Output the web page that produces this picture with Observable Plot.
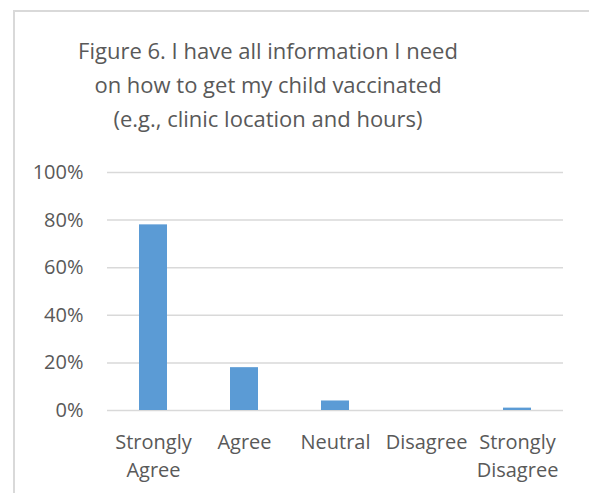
<!DOCTYPE html>
<html>
<head>
<meta charset="utf-8">
<script src="https://cdn.jsdelivr.net/npm/d3@7"></script>
<script src="https://cdn.jsdelivr.net/npm/@observablehq/plot@0.6"></script>
<style>
  html, body { margin: 0; padding: 0; background: #fff; }
  #wrap { position: relative; width: 589px; height: 493px; overflow: hidden; font-family: "Open Sans", sans-serif; }
  #frameTop { position: absolute; left: 13px; top: 10px; width: 600px; height: 2px; background: #d9d9d9; }
  #frameLeft { position: absolute; left: 13px; top: 10px; width: 2px; height: 500px; background: #d9d9d9; }
  #title { position: absolute; left: 0; top: 33px; width: 536px; text-align: center; font-size: 22px; line-height: 34px; color: #595959; }
  #chart { position: absolute; left: 0; top: 150px; }
</style>
</head>
<body>
<div id="wrap">
  <div id="frameTop"></div>
  <div id="frameLeft"></div>
  <div id="title">Figure 6. I have all information I need<br>on how to get my child vaccinated<br>(e.g., clinic location and hours)</div>
  <div id="chart"></div>
</div>
<script>
const categories = ["Strongly Agree", "Agree", "Neutral", "Disagree", "Strongly Disagree"];
const categoryLabels = ["Strongly\nAgree", "Agree", "Neutral", "Disagree", "Strongly\nDisagree"];
const values = [0.78, 0.18, 0.04, 0.0, 0.01];
const yTicks = [0, 0.2, 0.4, 0.6, 0.8, 1.0];

const data = categories.map((c, i) => ({category: c, value: values[i]}));
const labelOf = new Map(categories.map((c, i) => [c, categoryLabels[i]]));

const chart = Plot.plot({
  width: 589,
  height: 343,
  marginTop: 22,
  marginBottom: 83,
  marginLeft: 107,
  marginRight: 26,
  style: {fontFamily: "'Open Sans', sans-serif", color: "#595959", background: "transparent"},
  x: {domain: categories, paddingInner: 0.69, paddingOuter: 0.345, label: null},
  y: {domain: [0, 1], label: null},
  marks: [
    Plot.gridY(yTicks, {stroke: "#d9d9d9", strokeOpacity: 1, strokeWidth: 1.5}),
    Plot.barY(data, {x: "category", y: "value", fill: "#5b9bd5"}),
    Plot.axisY(yTicks, {tickSize: 0, tickPadding: 24, fontSize: 20, fill: "#595959", tickFormat: d3.format(".0%"), label: null}),
    Plot.axisX({tickSize: 0, tickPadding: 19, fontSize: 20, lineHeight: 1.4, fill: "#595959", tickFormat: d => labelOf.get(d), label: null})
  ]
});
document.getElementById("chart").appendChild(chart);
</script>
</body>
</html>
